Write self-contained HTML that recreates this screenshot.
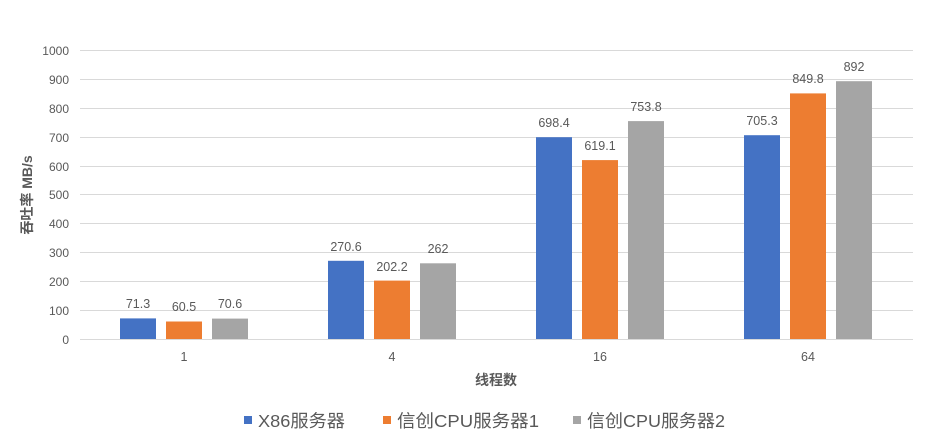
<!DOCTYPE html><html><head><meta charset="utf-8"><style>body{margin:0;background:#fff}svg{display:block}text{font-family:"Liberation Sans","Noto Sans CJK SC",sans-serif;fill:#595959}</style></head><body>
<svg width="926" height="448" xmlns="http://www.w3.org/2000/svg">
<g stroke="#d9d9d9" stroke-width="1">
<line x1="80" x2="913" y1="50.5" y2="50.5"/><line x1="80" x2="913" y1="79.5" y2="79.5"/><line x1="80" x2="913" y1="108.5" y2="108.5"/><line x1="80" x2="913" y1="137.5" y2="137.5"/><line x1="80" x2="913" y1="166.5" y2="166.5"/><line x1="80" x2="913" y1="194.5" y2="194.5"/><line x1="80" x2="913" y1="223.5" y2="223.5"/><line x1="80" x2="913" y1="252.5" y2="252.5"/><line x1="80" x2="913" y1="281.5" y2="281.5"/><line x1="80" x2="913" y1="310.5" y2="310.5"/><line x1="80" x2="913" y1="339.5" y2="339.5"/>
</g>
<g font-size="12" text-anchor="end">
<text x="69" y="55">1000</text><text x="69" y="84">900</text><text x="69" y="113">800</text><text x="69" y="142">700</text><text x="69" y="171">600</text><text x="69" y="199">500</text><text x="69" y="228">400</text><text x="69" y="257">300</text><text x="69" y="286">200</text><text x="69" y="315">100</text><text x="69" y="344">0</text>
</g>
<text transform="translate(32,195) rotate(-90)" font-size="14" font-weight="bold" text-anchor="middle">吞吐率 MB/s</text>
<g>
<rect x="120" y="318.4" width="36" height="20.6" fill="#4472c4"/><rect x="166" y="321.5" width="36" height="17.5" fill="#ed7d31"/><rect x="212" y="318.6" width="36" height="20.4" fill="#a5a5a5"/>
<rect x="328" y="260.8" width="36" height="78.2" fill="#4472c4"/><rect x="374" y="280.6" width="36" height="58.4" fill="#ed7d31"/><rect x="420" y="263.3" width="36" height="75.7" fill="#a5a5a5"/>
<rect x="536" y="137.2" width="36" height="201.8" fill="#4472c4"/><rect x="582" y="160.1" width="36" height="178.9" fill="#ed7d31"/><rect x="628" y="121.1" width="36" height="217.9" fill="#a5a5a5"/>
<rect x="744" y="135.2" width="36" height="203.8" fill="#4472c4"/><rect x="790" y="93.4" width="36" height="245.6" fill="#ed7d31"/><rect x="836" y="81.2" width="36" height="257.8" fill="#a5a5a5"/>
</g>
<g font-size="12.5" text-anchor="middle">
<text x="138" y="308">71.3</text><text x="184" y="311">60.5</text><text x="230" y="308">70.6</text>
<text x="346" y="251">270.6</text><text x="392" y="271">202.2</text><text x="438" y="253">262</text>
<text x="554" y="127">698.4</text><text x="600" y="150">619.1</text><text x="646" y="111">753.8</text>
<text x="762" y="125">705.3</text><text x="808" y="83">849.8</text><text x="854" y="71">892</text>
<text x="184" y="361">1</text><text x="392" y="361">4</text><text x="600" y="361">16</text><text x="808" y="361">64</text>
</g>
<text x="496" y="385" font-size="14" font-weight="bold" text-anchor="middle">线程数</text>
<g font-size="17.5">
<rect x="244" y="416" width="8" height="8" fill="#4472c4"/><text x="258" y="427" textLength="87" lengthAdjust="spacingAndGlyphs">X86服务器</text>
<rect x="383" y="416" width="8" height="8" fill="#ed7d31"/><text x="397" y="427" textLength="142" lengthAdjust="spacingAndGlyphs">信创CPU服务器1</text>
<rect x="573" y="416" width="8" height="8" fill="#a5a5a5"/><text x="587" y="427" textLength="138" lengthAdjust="spacingAndGlyphs">信创CPU服务器2</text>
</g>
</svg></body></html>
